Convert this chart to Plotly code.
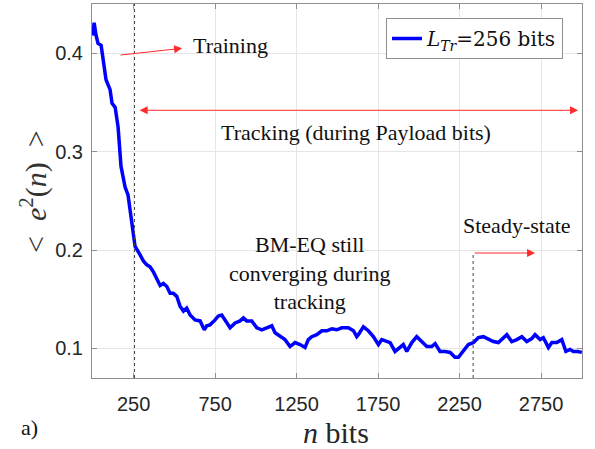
import plotly.graph_objects as go

# data
n_bits = [1, 8, 20, 32, 51, 63, 81, 106, 118, 137, 155, 173, 198, 216, 235,
          259, 290, 310, 331, 351, 371, 392, 413, 433, 454, 474, 494, 515, 535, 556,
          576, 597, 627, 658, 684, 699, 719, 750, 770, 791, 811, 842, 873, 903, 924,
          944, 975, 1006, 1037, 1067, 1098, 1118, 1149, 1179, 1210, 1241, 1271, 1302,
          1322, 1343, 1374, 1405, 1435, 1466, 1497, 1527, 1568, 1599, 1619, 1629,
          1660, 1690, 1721, 1752, 1773, 1803, 1824, 1854, 1885, 1905, 1926, 1957,
          1987, 2018, 2049, 2079, 2100, 2130, 2161, 2192, 2222, 2243, 2273, 2304,
          2335, 2365, 2396, 2427, 2457, 2488, 2519, 2540, 2570, 2601, 2632, 2662,
          2693, 2713, 2744, 2764, 2795, 2816, 2846, 2877, 2902, 2928, 2948, 2975, 3000]
mse = [0.418, 0.431, 0.418, 0.410, 0.408, 0.393, 0.373, 0.363, 0.349, 0.345, 0.325,
       0.285, 0.264, 0.256, 0.234,
       0.204, 0.195, 0.189, 0.185, 0.183, 0.178, 0.170, 0.164, 0.166, 0.163, 0.156,
       0.156, 0.153, 0.143, 0.138, 0.141, 0.134, 0.129, 0.128, 0.119, 0.123, 0.124,
       0.129, 0.133, 0.134, 0.129, 0.121, 0.126, 0.128, 0.131, 0.128, 0.128, 0.121,
       0.119, 0.121, 0.123, 0.116, 0.112, 0.109, 0.102, 0.106, 0.104, 0.101, 0.109,
       0.112, 0.114, 0.118, 0.118, 0.120, 0.119, 0.121, 0.121, 0.118, 0.112, 0.114,
       0.122, 0.118, 0.112, 0.104, 0.109, 0.107, 0.106, 0.097, 0.101, 0.104, 0.097,
       0.106, 0.112, 0.107, 0.102, 0.102, 0.105, 0.097, 0.097, 0.096, 0.091, 0.091,
       0.097, 0.104, 0.106, 0.111, 0.112, 0.109, 0.107, 0.106, 0.111, 0.114, 0.107,
       0.109, 0.112, 0.107, 0.110, 0.114, 0.109, 0.111, 0.101, 0.106, 0.106, 0.109,
       0.097, 0.099, 0.097, 0.097, 0.096]

x_ticks = [250, 750, 1250, 1750, 2250, 2750]
y_ticks = [0.1, 0.2, 0.3, 0.4]
y_ticklabels = ["0.1", "0.2", "0.3", "0.4"]

training_end = 256
steady_start = 2333

SERIF = "Liberation Serif, Times New Roman, serif"
SANS = "Liberation Sans, Arial, sans-serif"

L, R, T, B = 92, 582, 4, 378  # plot-area pixel box


def px(xp):
    return (xp - L) / (R - L)


def py(yp):
    return (B - yp) / (B - T)


fig = go.Figure()
fig.add_trace(go.Scatter(
    x=n_bits, y=mse, mode="lines",
    line=dict(color="#0000ff", width=3.5),
    name="<i>L</i><sub><i>Tr</i></sub>=256 bits",
))

axis_common = dict(
    showline=True, linecolor="#8f8f8f", linewidth=1, mirror="ticks",
    ticks="inside", ticklen=5, tickcolor="#8f8f8f",
    showgrid=True, gridcolor="#e6e6e6", gridwidth=1, zeroline=False,
    tickfont=dict(family=SANS, size=20, color="#262626"),
)

fig.update_xaxes(range=[-5, 3001], tickvals=x_ticks, ticklabelstandoff=8, **axis_common)
fig.update_yaxes(range=[0.07, 0.45], tickvals=y_ticks, ticktext=y_ticklabels,
                 ticklabelstandoff=4, **axis_common)

# vertical dotted markers
fig.add_shape(type="line", x0=training_end, x1=training_end, y0=0.07, y1=0.45,
              xref="x", yref="y", line=dict(color="#444444", width=1, dash="dot"))
fig.add_shape(type="line", x0=steady_start, x1=steady_start, y0=0.07, y1=0.197,
              xref="x", yref="y", line=dict(color="#444444", width=1, dash="dot"))

red = "#ff2a2a"
txt = dict(family=SERIF, size=22, color="#111111")


def label(xp, yp, text, **kw):
    d = dict(x=px(xp), y=py(yp), xref="paper", yref="paper", text=text, showarrow=False,
             xanchor="center", yanchor="middle", font=txt)
    d.update(kw)
    return d


anns = [
    # Training arrow
    dict(x=548, y=0.405, ax=161, ay=0.398, xref="x", yref="y", axref="x", ayref="y",
         showarrow=True, arrowhead=2, arrowsize=1.6, arrowwidth=1, arrowcolor=red, text=""),
    # Tracking double arrow
    dict(x=2977, y=0.342, ax=278, ay=0.342, xref="x", yref="y", axref="x", ayref="y",
         showarrow=True, arrowhead=2, startarrowhead=2, arrowside="end+start",
         arrowsize=1.6, startarrowsize=1.6, arrowwidth=1, arrowcolor=red, text=""),
    # Steady-state arrow
    dict(x=2713, y=0.197, ax=2333, ay=0.197, xref="x", yref="y", axref="x", ayref="y",
         showarrow=True, arrowhead=2, arrowsize=1.6, arrowwidth=1, arrowcolor=red, text=""),
    label(230, 45, "Training"),
    label(356, 132, "Tracking (during Payload bits)"),
    label(517, 226, "Steady-state"),
    label(310, 273, "BM-EQ still<br>converging during<br>tracking", align="center"),
    label(29, 427, "a)"),
    label(336, 433, "<i>n</i> bits", font=dict(family=SERIF, size=30, color="#262626")),
    label(33, 192, "&lt;&#8194;<i>e</i><sup>2</sup>(<i>n</i>)&#8194;&gt;", textangle=-90,
          font=dict(family=SERIF, size=30, color="#333333")),
]
fig.update_layout(
    width=595, height=449,
    margin=dict(l=L, r=595 - R, t=T, b=449 - B),
    paper_bgcolor="white", plot_bgcolor="white",
    annotations=anns,
    showlegend=True,
    legend=dict(x=px(563), y=py(18), xanchor="right", yanchor="top",
                bgcolor="white", bordercolor="#8f8f8f", borderwidth=1,
                font=dict(family="DejaVu Serif, serif", size=20, color="#111111"),
                tracegroupgap=0, itemwidth=30),
)

fig.write_html("out.html", post_script="document.body.style.margin='0';",
               config={"displayModeBar": False})
